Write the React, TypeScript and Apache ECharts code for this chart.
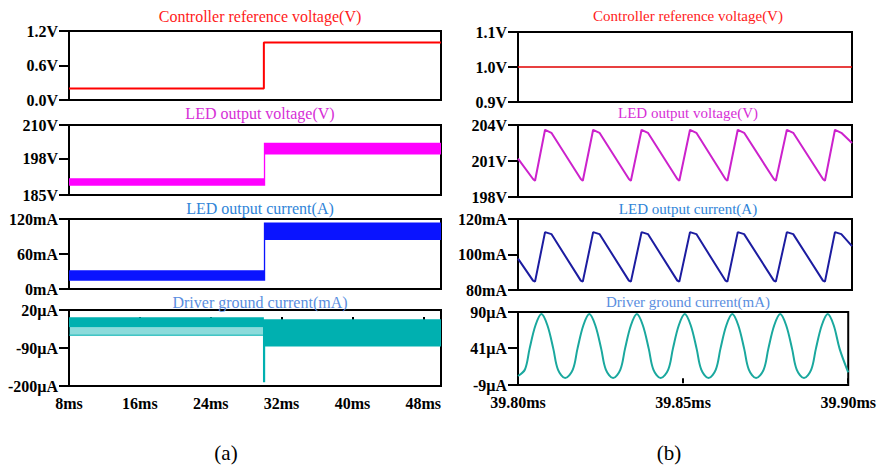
import React, { useEffect, useRef } from "react";
import * as echarts from "echarts";

// ---------- data ----------
const leftTimeTicks = [8, 16, 24, 32, 40, 48];
const rightTimeTicks = [39.8, 39.85, 39.9];

const refVoltTicksA = [0, 0.6, 1.2];
const ledVoltTicksA = [185, 198, 210];
const ledCurrTicksA = [0, 60, 120];
const gndCurrTicksA = [-200, -90, 20];

const refVoltTicksB = [0.9, 1.0, 1.1];
const ledVoltTicksB = [198, 201, 204];
const ledCurrTicksB = [80, 100, 120];
const gndCurrTicksB = [-9, 41, 90];

// (a) controller reference voltage (V) vs time (ms)
const refVoltA: number[][] = [[8, 0.2], [30, 0.2], [30, 1.0], [50, 1.0]];
// (a) LED output voltage ripple envelope (V)
const ledVoltUpperA: number[][] = [[8, 191], [30, 191], [30, 203.7], [50, 203.7]];
const ledVoltLowerA: number[][] = [[8, 188.3], [30.15, 188.3], [30.15, 199.5], [50, 199.5]];
// (a) LED output current ripple envelope (mA)
const ledCurrUpperA: number[][] = [[8, 32], [30, 32], [30, 114], [50, 114]];
const ledCurrLowerA: number[][] = [[8, 14], [30.15, 14], [30.15, 84], [50, 84]];
// (a) driver ground current envelope (uA)
const gndCurrUpperA: number[][] = [[8, -1], [30, -1], [30, -7], [50, -7]];
const gndCurrLowerA: number[][] = [[8, -30], [29.9, -30], [29.9, -189], [30.15, -189], [30.15, -86], [50, -86]];
const gndSpikeUpperA: number[][] = [[8, -30], [29.9, -30]];
const gndSpikeLowerA: number[][] = [[8, -53], [29.9, -53]];

// (b) controller reference voltage
const refVoltB: number[][] = [[39.8, 1.0], [39.9, 1.0]];
// (b) LED output voltage (V)
const ledVoltB: number[][] = [
  [39.8, 201.2], [39.8045, 199.5], [39.8051, 199.35], [39.8081, 203.6], [39.81, 203.35],
  [39.8188, 199.5], [39.8194, 199.35], [39.8225, 203.6], [39.8244, 203.35],
  [39.8332, 199.5], [39.8338, 199.35], [39.837, 203.6], [39.8389, 203.35],
  [39.8477, 199.5], [39.8483, 199.35], [39.8515, 203.6], [39.8534, 203.35],
  [39.8621, 199.5], [39.8627, 199.35], [39.8658, 203.6], [39.8677, 203.35],
  [39.8766, 199.5], [39.8772, 199.35], [39.8805, 203.6], [39.8824, 203.35],
  [39.8913, 199.5], [39.8919, 199.35], [39.8949, 203.6], [39.8968, 203.35], [39.9, 202.5],
];
// (b) LED output current (mA)
const ledCurrB: number[][] = [
  [39.8, 97.7], [39.8045, 85.3], [39.8051, 84.7], [39.8081, 112.6], [39.81, 111.5],
  [39.8188, 85.3], [39.8194, 84.7], [39.8225, 112.6], [39.8244, 111.5],
  [39.8332, 85.3], [39.8338, 84.7], [39.837, 112.6], [39.8389, 111.5],
  [39.8477, 85.3], [39.8483, 84.7], [39.8515, 112.6], [39.8534, 111.5],
  [39.8621, 85.3], [39.8627, 84.7], [39.8658, 112.6], [39.8677, 111.5],
  [39.8766, 85.3], [39.8772, 84.7], [39.8805, 112.6], [39.8824, 111.5],
  [39.8913, 85.3], [39.8919, 84.7], [39.8949, 112.6], [39.8968, 111.5], [39.9, 104.7],
];
// (b) driver ground current (uA)
const gndCurrB: number[][] = [
  [39.8, 3.2], [39.8021, 12], [39.8035, 40], [39.8053, 72], [39.8071, 87.3], [39.8089, 72], [39.8107, 40], [39.8121, 12], [39.8143, 0.5],
  [39.8166, 12], [39.818, 40], [39.8198, 72], [39.8216, 87.3], [39.8234, 72], [39.8252, 40], [39.8266, 12], [39.8288, 0.5],
  [39.831, 12], [39.8324, 40], [39.8342, 72], [39.836, 87.3], [39.8378, 72], [39.8396, 40], [39.841, 12], [39.8432, 0.5],
  [39.8455, 12], [39.8469, 40], [39.8487, 72], [39.8505, 87.3], [39.8523, 72], [39.8541, 40], [39.8555, 12], [39.8577, 0.5],
  [39.8599, 12], [39.8613, 40], [39.8631, 72], [39.8649, 87.3], [39.8667, 72], [39.8685, 40], [39.8699, 12], [39.8721, 0.5],
  [39.8744, 12], [39.8758, 40], [39.8776, 72], [39.8794, 87.3], [39.8812, 72], [39.883, 40], [39.8844, 12], [39.8866, 0.5],
  [39.8888, 12], [39.8902, 40], [39.892, 72], [39.8938, 87.3], [39.8956, 72], [39.8974, 40], [39.9, 8.2],
];

const titlesA = ["Controller reference voltage(V)", "LED output voltage(V)", "LED output current(A)", "Driver ground current(mA)"];
const titlesB = titlesA;

// ---------- styling ----------
const SERIF = '"Liberation Serif", "Times New Roman", serif';
const titleColors = ["#ff1a1a", "#d62ed6", "#2f84d8", "#5a8ee0"];

const gridsA = [
  { top: 31, height: 69 },
  { top: 125, height: 70 },
  { top: 219, height: 70 },
  { top: 310, height: 76 },
];
const gridsB = [
  { top: 32, height: 70 },
  { top: 125, height: 72 },
  { top: 219, height: 71 },
  { top: 312, height: 73 },
];
const titleYA = [16, 113, 208, 302];
const titleYB = [16, 113, 209, 302];

function envelopeSeries(idx: number, upper: number[][], lower: number[][], color: string, opacity = 1) {
  const poly = upper.concat(lower.slice().reverse());
  return {
    type: "custom",
    xAxisIndex: idx,
    yAxisIndex: idx,
    silent: true,
    data: [upper[0]],
    renderItem: (_p: any, api: any) => ({
      type: "polygon",
      shape: { points: poly.map((pt) => api.coord(pt)) },
      style: { fill: color, opacity },
    }),
  };
}

function lineSeries(idx: number, data: number[][], color: string, width: number, smooth: any = false) {
  return {
    type: "line",
    xAxisIndex: idx,
    yAxisIndex: idx,
    data,
    showSymbol: false,
    symbol: "none",
    smooth,
    lineStyle: { color, width },
    silent: true,
  };
}

export default function App() {
  const ref = useRef<HTMLDivElement>(null);

  useEffect(() => {
    if (!ref.current) return;
    const chart = echarts.init(ref.current, undefined, { renderer: "svg" });

    const grids: any[] = [];
    const xAxes: any[] = [];
    const yAxes: any[] = [];

    const yTickFmts = [
      (v: number) => v.toFixed(1) + "V",
      (v: number) => v + "V",
      (v: number) => v + "mA",
      (v: number) => v + "\u00b5A",
    ];
    const yTicksA = [refVoltTicksA, ledVoltTicksA, ledCurrTicksA, gndCurrTicksA];
    const yTicksB = [refVoltTicksB, ledVoltTicksB, ledCurrTicksB, gndCurrTicksB];

    const makeY = (idx: number, ticks: number[], fmt: (v: number) => string, margin: number) => ({
      type: "value",
      gridIndex: idx,
      min: ticks[0],
      max: ticks[ticks.length - 1],
      axisLine: { show: false },
      splitLine: { show: false },
      axisTick: { show: true, customValues: ticks, length: 10, lineStyle: { color: "#000", width: 2 } },
      axisLabel: {
        customValues: ticks,
        formatter: fmt,
        margin,
        color: "#000",
        fontFamily: SERIF,
        fontWeight: "bold",
        fontSize: 16,
      },
    });

    const makeX = (idx: number, ticks: number[], min: number, max: number, fmt: (v: number) => string, showLabels: boolean) => ({
      type: "value",
      gridIndex: idx,
      min,
      max,
      axisLine: { show: false },
      splitLine: { show: false },
      axisTick: { show: showLabels, customValues: ticks, length: 5, lineStyle: { color: "#000", width: 2 } },
      axisLabel: {
        show: showLabels,
        customValues: ticks,
        formatter: fmt,
        margin: 9,
        color: "#000",
        fontFamily: SERIF,
        fontWeight: "bold",
        fontSize: 16,
      },
    });

    for (let i = 0; i < 4; i++) {
      grids.push({ left: 69, width: 372, top: gridsA[i].top, height: gridsA[i].height, show: true, borderColor: "#000", borderWidth: 2, backgroundColor: "transparent" });
      xAxes.push(makeX(i, leftTimeTicks, 8, 50, (v: number) => v + "ms", i === 3));
      yAxes.push(makeY(i, yTicksA[i], yTickFmts[i], 11));
    }
    for (let i = 0; i < 4; i++) {
      grids.push({ left: 518, width: 334, top: gridsB[i].top, height: gridsB[i].height, show: true, borderColor: "#000", borderWidth: 2, backgroundColor: "transparent" });
      xAxes.push(makeX(4 + i, rightTimeTicks, 39.8, 39.9, (v: number) => v.toFixed(2) + "ms", i === 3));
      yAxes.push(makeY(4 + i, yTicksB[i], yTickFmts[i], 11));
    }

    const series: any[] = [
      lineSeries(0, refVoltA, "#ff0000", 2),
      envelopeSeries(1, ledVoltUpperA, ledVoltLowerA, "#ff00ff"),
      envelopeSeries(2, ledCurrUpperA, ledCurrLowerA, "#0a14ff"),
      envelopeSeries(3, gndSpikeUpperA, gndSpikeLowerA, "#00b0b0", 0.45),
      lineSeries(3, gndSpikeLowerA, "#00b0b0", 1),
      envelopeSeries(3, gndCurrUpperA, gndCurrLowerA, "#00b0b0"),
      lineSeries(4, refVoltB, "#e00000", 1.5),
      lineSeries(5, ledVoltB, "#cc22cc", 2),
      lineSeries(6, ledCurrB, "#1c1ca0", 2),
      lineSeries(7, gndCurrB, "#1aa89e", 2, 0.35),
    ];

    const graphics: any[] = [];
    for (let i = 0; i < 4; i++) {
      graphics.push({
        type: "text",
        x: 260,
        y: titleYA[i],
        style: { text: titlesA[i], fill: titleColors[i], font: `16px ${SERIF}`, textAlign: "center", textVerticalAlign: "middle" },
      });
      graphics.push({
        type: "text",
        x: 688,
        y: titleYB[i],
        style: { text: titlesB[i], fill: titleColors[i], font: `15px ${SERIF}`, textAlign: "center", textVerticalAlign: "middle" },
      });
    }
    graphics.push({ type: "text", x: 226, y: 453, style: { text: "(a)", fill: "#000", font: `21px ${SERIF}`, textAlign: "center", textVerticalAlign: "middle" } });
    graphics.push({ type: "text", x: 669, y: 453, style: { text: "(b)", fill: "#000", font: `21px ${SERIF}`, textAlign: "center", textVerticalAlign: "middle" } });

    chart.setOption({
      animation: false,
      backgroundColor: "#fff",
      grid: grids,
      xAxis: xAxes,
      yAxis: yAxes,
      series,
      graphic: graphics,
    });

    return () => chart.dispose();
  }, []);

  return <div ref={ref} style={{ position: "absolute", left: 0, top: 0, width: 879, height: 469 }} />;
}
